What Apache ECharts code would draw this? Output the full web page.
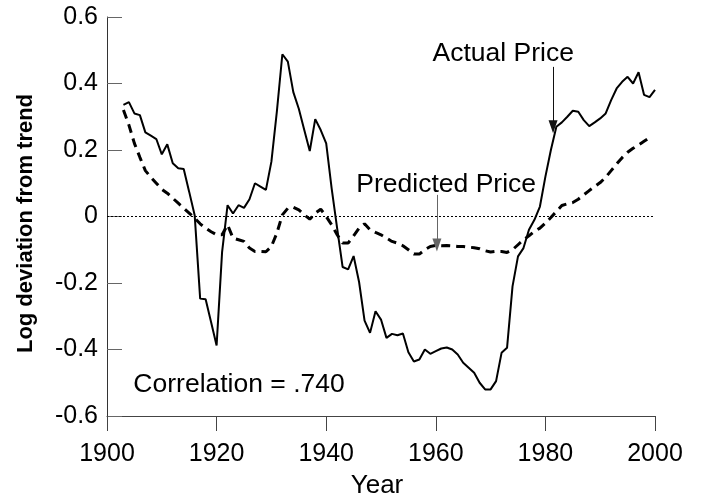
<!DOCTYPE html>
<html>
<head>
<meta charset="utf-8">
<script src="https://cdn.jsdelivr.net/npm/echarts@6/dist/echarts.min.js"></script>
<style>
html,body{margin:0;padding:0;background:#fff;}
#chart{width:701px;height:504px;}
</style>
</head>
<body>
<div id="chart"></div>
<script>
// ---- data ----
var actualYears = [];
for (var y = 1903; y <= 2000; y++) actualYears.push(y);
var actual = [
  0.336, 0.344, 0.31, 0.305, 0.253, 0.243, 0.233, 0.187, 0.217, 0.16,
  0.145, 0.143, 0.074, 0.004, -0.247, -0.249, -0.318, -0.388, -0.107, 0.034,
  0.009, 0.034, 0.026, 0.052, 0.10, 0.09, 0.08, 0.165, 0.316, 0.488,
  0.466, 0.374, 0.324, 0.26, 0.197, 0.293, 0.26, 0.22, 0.084, -0.036,
  -0.152, -0.159, -0.119, -0.197, -0.313, -0.35, -0.285, -0.31, -0.365, -0.353,
  -0.357, -0.352, -0.408, -0.436, -0.43, -0.40, -0.413, -0.405, -0.397, -0.394,
  -0.40, -0.415, -0.44, -0.455, -0.47, -0.50, -0.52, -0.52, -0.495, -0.41,
  -0.395, -0.21, -0.12, -0.095, -0.04, -0.01, 0.03, 0.12, 0.2, 0.27,
  0.283, 0.30, 0.318, 0.315, 0.29, 0.272, 0.283, 0.295, 0.31, 0.35,
  0.385, 0.405, 0.42, 0.40, 0.434, 0.366, 0.359, 0.381
];
var predictedYears = [];
for (var y2 = 1903; y2 <= 1999; y2++) predictedYears.push(y2);
var predicted = [
  0.32, 0.275, 0.22, 0.178, 0.138, 0.118, 0.10, 0.082, 0.07, 0.055,
  0.04, 0.025, 0.01, -0.005, -0.022, -0.035, -0.046, -0.055, -0.055, -0.025,
  -0.065, -0.07, -0.075, -0.095, -0.105, -0.105, -0.106, -0.09, -0.05, 0.005,
  0.025, 0.028, 0.02, 0.005, -0.008, 0.01, 0.022, 0.0, -0.025, -0.055,
  -0.08, -0.08, -0.058, -0.035, -0.022, -0.04, -0.048, -0.055, -0.065, -0.075,
  -0.08, -0.088, -0.1, -0.113, -0.113, -0.1, -0.09, -0.087, -0.088, -0.087,
  -0.088, -0.09, -0.09, -0.092, -0.094, -0.097, -0.103, -0.107, -0.105, -0.105,
  -0.108, -0.1, -0.085, -0.07, -0.058, -0.045, -0.035, -0.02, -0.003, 0.015,
  0.033, 0.038, 0.042, 0.052, 0.065, 0.078, 0.09, 0.102, 0.118, 0.138,
  0.158, 0.177, 0.193, 0.205, 0.215, 0.226, 0.237
];
var xTicks = [1900, 1920, 1940, 1960, 1980, 2000];
var yTicks = [-0.6, -0.4, -0.2, 0, 0.2, 0.4, 0.6];

// annotations (data coordinates)
var noteTexts = ['Actual Price', 'Predicted Price', 'Correlation = .740'];
var noteX = [1972.3, 1961.9, 1924.1];
var noteY = [0.49, 0.095, -0.506];
var arrowX = [1981.4, 1960.2];
var arrowFrom = [0.45, 0.065];
var arrowTo = [0.27, -0.086];
var arrowColors = ['#111', '#666'];

// ---- chart ----
var FONT = '"Liberation Sans", Arial, sans-serif';
var chart = echarts.init(document.getElementById('chart'), null, {renderer: 'canvas'});

function pairs(xs, ys) { return xs.map(function (x, i) { return [x, ys[i]]; }); }

var arrowLines = arrowX.map(function (x, i) {
  return [
    {coord: [x, arrowFrom[i]],
     lineStyle: {color: arrowColors[i], width: 1, type: 'solid'},
     itemStyle: {color: arrowColors[i]}},
    {coord: [x, arrowTo[i]], itemStyle: {color: arrowColors[i]}}
  ];
});

var option = {
  animation: false,
  backgroundColor: '#fff',
  grid: {left: 107, right: 46, top: 17, bottom: 88, containLabel: false},
  xAxis: {
    type: 'value',
    min: xTicks[0], max: xTicks[xTicks.length - 1], interval: 20,
    name: 'Year', nameLocation: 'middle', nameGap: 57,
    nameTextStyle: {fontFamily: FONT, fontSize: 26, color: '#000', padding: [0, 8, 0, 0]},
    axisLine: {show: true, onZero: false, lineStyle: {color: '#444', width: 1}},
    axisTick: {show: true, inside: false, length: 15, lineStyle: {color: '#444', width: 1}},
    axisLabel: {margin: 26, fontFamily: FONT, fontSize: 25, color: '#000',
      formatter: function (v) { return String(Math.round(v)); }},
    splitLine: {show: false}
  },
  yAxis: {
    type: 'value',
    min: yTicks[0], max: yTicks[yTicks.length - 1], interval: 0.2,
    name: 'Log deviation from trend', nameLocation: 'middle', nameGap: 70, nameRotate: 90,
    nameTextStyle: {fontFamily: FONT, fontSize: 22, fontWeight: 'bold', color: '#000', padding: [0, 14, 0, 0]},
    axisLine: {show: true, lineStyle: {color: '#333', width: 1}},
    axisTick: {show: true, inside: true, length: 15, lineStyle: {color: '#666', width: 1}},
    axisLabel: {
      margin: 9, fontFamily: FONT, fontSize: 25, color: '#000',
      formatter: function (v) { return Math.abs(v) < 1e-9 ? '0' : v.toFixed(1); }
    },
    splitLine: {show: false}
  },
  series: [
    {
      name: 'Actual Price', type: 'line',
      data: pairs(actualYears, actual),
      showSymbol: false, symbol: 'none',
      lineStyle: {color: '#000', width: 2},
      z: 5,
      markLine: {
        silent: true, symbol: 'none', animation: false,
        label: {show: false},
        lineStyle: {color: '#000', width: 1, type: [2, 2]},
        data: [{yAxis: 0}]
      }
    },
    {
      name: 'Predicted Price', type: 'line',
      data: pairs(predictedYears, predicted),
      showSymbol: false, symbol: 'none',
      lineStyle: {color: '#000', width: 3, type: [9, 6]},
      itemStyle: {color: '#000'},
      z: 4,
      markLine: {
        silent: true, animation: false,
        symbol: ['none', 'triangle'], symbolSize: [9, 13], symbolRotate: 180,
        label: {show: false},
        data: arrowLines
      }
    },
    {
      name: 'notes', type: 'scatter',
      symbolSize: 0,
      itemStyle: {color: '#000', opacity: 1},
      data: noteTexts.map(function (t, i) { return {name: t, value: [noteX[i], noteY[i]]}; }),
      label: {
        show: true, position: [0, 0], align: 'center', verticalAlign: 'middle',
        formatter: '{b}', fontFamily: FONT, fontSize: 26.5, color: '#000',
        textBorderWidth: 0, opacity: 1
      },
      emphasis: {disabled: true},
      silent: true, z: 10
    }
  ]
};
chart.setOption(option);
</script>
</body>
</html>
